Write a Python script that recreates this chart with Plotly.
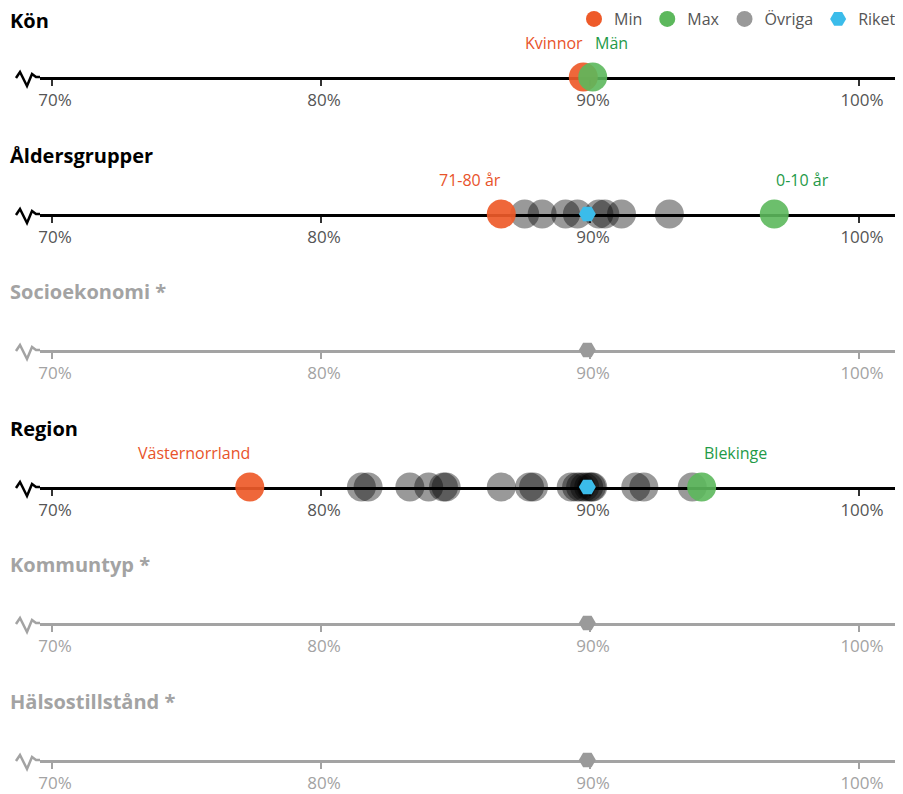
import plotly.graph_objects as go

# ---------- data ----------
ROW_NAMES = ["Kön", "Åldersgrupper", "Socioekonomi *", "Region", "Kommuntyp *", "Hälsostillstånd *"]
ROW_ACTIVE = [True, True, False, True, False, False]

MIN_VALUES = [89.75, 86.7, None, 77.35, None, None]
MIN_LABELS = ["Kvinnor", "71-80 år", None, "Västernorrland", None, None]
MAX_VALUES = [90.1, 96.85, None, 94.15, None, None]
MAX_LABELS = ["Män", "0-10 år", None, "Blekinge", None, None]

OVRIGA_KON = []
OVRIGA_ALDER = [87.57, 88.22, 89.09, 89.53, 90.33, 90.55, 91.17, 92.95]
OVRIGA_REGION = [81.5, 81.75, 83.3, 84.0, 84.55, 84.65, 86.7, 87.75, 87.9,
                 89.3, 89.5, 89.65, 89.8, 89.95, 90.05, 90.1, 91.7, 92.0, 93.8]
OVRIGA = [OVRIGA_KON, OVRIGA_ALDER, [], OVRIGA_REGION, [], []]

RIKET_VALUES = [None, 89.9, 89.9, 89.9, 89.9, 89.9]

TICK_VALS = [70, 80, 90, 100]
TICK_TEXT = ["70%", "80%", "90%", "100%"]
X_RANGE = [69.55, 101.45]

# ---------- styling ----------
FONT = "'Open Sans', Lato, sans-serif"
ORANGE = "#EE5A29"
ORANGE_TEXT = "#E8532A"
GREEN = "#5CB85C"
GREEN_TEXT = "#1F9A48"
BLUE = "#3BBCEA"
OVRIGA_COLOR = "rgba(0,0,0,0.40)"
INACTIVE = "#a3a3a3"

# page body has an 8px margin, so the figure is sized/placed to compensate
W, H = 895, 786
M_L, M_R, M_T, M_B = 32, 5, 0, 34
PLOT_W = W - M_L - M_R
PLOT_H = H - M_T - M_B
LINE_Y_PX = [69, 206, 342, 479, 615, 752]
TITLE_GAP = [56, 59, 59, 59, 59, 59]  # px between row title and axis line


def paper_y(px):
    return (H - M_B - px) / PLOT_H


fig = go.Figure()
layout = {}
annotations = []
shapes = []

for i, name in enumerate(ROW_NAMES):
    n = i + 1
    xa, ya = f"x{n}", f"y{n}"
    active = ROW_ACTIVE[i]
    line_col = "black" if active else INACTIVE
    y0 = paper_y(LINE_Y_PX[i])

    layout[f"xaxis{n}"] = dict(
        domain=[0, 1], anchor=ya, range=X_RANGE,
        showline=True, linecolor=line_col, linewidth=3,
        ticks="outside", ticklen=6, tickwidth=2,
        tickcolor="#333" if active else INACTIVE,
        tickvals=TICK_VALS, ticktext=TICK_TEXT, ticklabelshift=3,
        tickfont=dict(family=FONT, size=17, color="#555" if active else INACTIVE),
        showgrid=False, zeroline=False, layer="below traces", fixedrange=True,
    )
    layout[f"yaxis{n}"] = dict(
        domain=[y0, min(y0 + 0.06, 1)], anchor=xa, range=[0, 1],
        visible=False, fixedrange=True,
    )

    # zigzag break marker at left end of the axis
    shapes.append(dict(
        type="path", xref="paper", yref="paper", xsizemode="pixel", ysizemode="pixel",
        xanchor=0, yanchor=y0,
        path="M-24,-1 L-20,5 L-13,-9 L-8,3 L-4,0 L0,0",
        line=dict(color=line_col, width=2.5),
    ))

    # row title
    annotations.append(dict(
        text=f"<b>{name}</b>", xref="paper", yref="paper",
        x=-M_L / PLOT_W, y=y0 + TITLE_GAP[i] / PLOT_H,
        xanchor="left", yanchor="middle", showarrow=False,
        font=dict(family=FONT, size=20, color="black" if active else INACTIVE),
    ))

    if OVRIGA[i]:
        fig.add_trace(go.Scatter(
            x=OVRIGA[i], y=[0] * len(OVRIGA[i]), xaxis=xa, yaxis=ya,
            mode="markers", cliponaxis=False, showlegend=False, hoverinfo="x",
            marker=dict(size=29, color=OVRIGA_COLOR, line=dict(width=0)),
        ))
    if MIN_VALUES[i] is not None:
        fig.add_trace(go.Scatter(
            x=[MIN_VALUES[i]], y=[0], xaxis=xa, yaxis=ya,
            mode="markers", cliponaxis=False, showlegend=False, hoverinfo="x",
            marker=dict(size=29, color=ORANGE, opacity=0.92, line=dict(width=0)),
        ))
        annotations.append(dict(
            text=MIN_LABELS[i], xref=xa, yref=ya, x=MIN_VALUES[i], y=0,
            xanchor="right", yanchor="bottom", yshift=21, xshift=2, showarrow=False,
            font=dict(family=FONT, size=16, color=ORANGE_TEXT),
        ))
    if MAX_VALUES[i] is not None:
        fig.add_trace(go.Scatter(
            x=[MAX_VALUES[i]], y=[0], xaxis=xa, yaxis=ya,
            mode="markers", cliponaxis=False, showlegend=False, hoverinfo="x",
            marker=dict(size=29, color=GREEN, opacity=0.9, line=dict(width=0)),
        ))
        annotations.append(dict(
            text=MAX_LABELS[i], xref=xa, yref=ya, x=MAX_VALUES[i], y=0,
            xanchor="left", yanchor="bottom", yshift=21, xshift=0, showarrow=False,
            font=dict(family=FONT, size=16, color=GREEN_TEXT),
        ))
    if RIKET_VALUES[i] is not None:
        fig.add_trace(go.Scatter(
            x=[RIKET_VALUES[i]], y=[0], xaxis=xa, yaxis=ya,
            mode="markers", cliponaxis=False, showlegend=False, hoverinfo="x",
            marker=dict(size=17, symbol="hexagon2",
                        color=BLUE if active else "#9a9a9a", line=dict(width=0)),
        ))

# legend-only entries
for lname, sym, col in [("Min", "circle", ORANGE), ("Max", "circle", GREEN),
                        ("Övriga", "circle", "#999999"), ("Riket", "hexagon2", BLUE)]:
    fig.add_trace(go.Scatter(
        x=[None], y=[None], xaxis="x1", yaxis="y1", mode="markers", name=lname,
        marker=dict(size=17, symbol=sym, color=col),
    ))

fig.update_layout(
    **layout,
    width=W, height=H,
    margin=dict(l=M_L, r=M_R, t=M_T, b=M_B, autoexpand=False),
    plot_bgcolor="white", paper_bgcolor="white",
    showlegend=True,
    legend=dict(
        orientation="h", x=(566 - M_L) / PLOT_W, xanchor="left",
        y=1 - 11 / PLOT_H, yanchor="middle",
        font=dict(family=FONT, size=16, color="#555"),
        itemsizing="trace", tracegroupgap=0, bgcolor="rgba(0,0,0,0)",
    ),
    annotations=annotations,
    shapes=shapes,
    hovermode="closest",
)

fig.write_html("out.html")
